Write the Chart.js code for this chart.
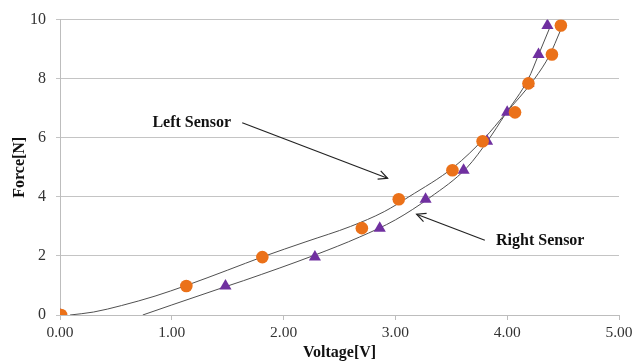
<!DOCTYPE html>
<html>
<head>
<meta charset="utf-8">
<script src="https://cdn.jsdelivr.net/npm/chart.js@4"></script>
<style>
  html, body { margin: 0; padding: 0; background: #fff; }
  #wrap { width: 632px; height: 362px; }
</style>
</head>
<body>
<div id="wrap"><canvas id="forceChart" width="632" height="362"></canvas></div>
<script>
// Measured points (same force steps for both sensors)
const force = [0, 0.98, 1.96, 2.94, 3.92, 4.90, 5.88, 6.86, 7.84, 8.82, 9.80];
const leftVoltage = [0.01, 1.13, 1.81, 2.70, 3.03, 3.51, 3.78, 4.07, 4.19, 4.40, 4.48];
const rightVoltage = [0.00, 1.48, 2.28, 2.86, 3.27, 3.61, 3.82, 4.00, 4.19, 4.28, 4.36];

// Trendlines
const leftTrendV = [0.09, 0.30, 0.55, 0.85, 1.13, 1.50, 1.82, 2.20, 2.60, 2.90, 3.12, 3.52, 3.80, 3.98, 4.245, 4.38, 4.475];
const leftTrendF = [0.00, 0.10, 0.32, 0.64, 1.00, 1.52, 1.98, 2.48, 3.00, 3.50, 4.00, 5.00, 6.00, 6.80, 8.00, 8.80, 9.62];
const rightTrendV = [0.74, 1.00, 1.45, 1.64, 2.28, 2.68, 3.00, 3.31, 3.64, 3.83, 3.98, 4.19, 4.275, 4.38];
const rightTrendF = [0.00, 0.34, 0.92, 1.16, 2.03, 2.64, 3.22, 3.98, 4.99, 5.92, 6.78, 8.00, 8.76, 9.72];

// Axis ticks
const xTicks = [0, 1, 2, 3, 4, 5];
const yTicks = [0, 2, 4, 6, 8, 10];

// Callouts, placed in data units
const callouts = [
    { text: 'Left Sensor', tx: 1.53, ty: 6.51, align: 'right', from: [1.63, 6.51], to: [2.93, 4.63] },
    { text: 'Right Sensor', tx: 3.90, ty: 2.50, align: 'left', from: [3.80, 2.53], to: [3.19, 3.41] }
];

const toPoints = (xs, ys) => xs.map((x, i) => ({ x: x, y: ys[i] }));

const serif = "'Liberation Serif', 'Times New Roman', serif";

const calloutPlugin = {
    id: 'callouts',
    afterDatasetsDraw(chart) {
        const ctx = chart.ctx;
        const xs = chart.scales.x, ys = chart.scales.y;
        ctx.save();
        ctx.font = 'bold 16px ' + serif;
        ctx.fillStyle = '#111';
        ctx.textBaseline = 'middle';
        ctx.strokeStyle = '#222';
        ctx.lineWidth = 1.2;
        callouts.forEach(c => {
            ctx.textAlign = c.align;
            ctx.fillText(c.text, xs.getPixelForValue(c.tx), ys.getPixelForValue(c.ty));
            const x1 = xs.getPixelForValue(c.from[0]), y1 = ys.getPixelForValue(c.from[1]);
            const x2 = xs.getPixelForValue(c.to[0]), y2 = ys.getPixelForValue(c.to[1]);
            ctx.beginPath();
            ctx.moveTo(x1, y1);
            ctx.lineTo(x2, y2);
            ctx.stroke();
            // open arrow head
            const a = Math.atan2(y2 - y1, x2 - x1);
            const len = 10, spread = 0.45;
            ctx.beginPath();
            ctx.moveTo(x2 - len * Math.cos(a - spread), y2 - len * Math.sin(a - spread));
            ctx.lineTo(x2, y2);
            ctx.lineTo(x2 - len * Math.cos(a + spread), y2 - len * Math.sin(a + spread));
            ctx.stroke();
        });
        ctx.restore();
    }
};

const ctx = document.getElementById('forceChart').getContext('2d');
new Chart(ctx, {
    type: 'scatter',
    data: {
        datasets: [
            {
                label: 'Left Sensor',
                data: toPoints(leftVoltage, force),
                pointStyle: 'circle',
                pointRadius: 6.3,
                backgroundColor: '#EB7119',
                borderColor: '#EB7119',
                borderWidth: 0,
                order: 1
            },
            {
                label: 'Right Sensor',
                data: toPoints(rightVoltage, force),
                pointStyle: 'triangle',
                pointRadius: 7,
                backgroundColor: '#7030A0',
                borderColor: '#7030A0',
                borderWidth: 0,
                order: 2
            },
            {
                label: 'Left trend',
                type: 'line',
                data: toPoints(leftTrendV, leftTrendF),
                borderColor: '#505050',
                borderWidth: 1,
                pointRadius: 0,
                fill: false,
                cubicInterpolationMode: 'monotone',
                order: 3
            },
            {
                label: 'Right trend',
                type: 'line',
                data: toPoints(rightTrendV, rightTrendF),
                borderColor: '#505050',
                borderWidth: 1,
                pointRadius: 0,
                fill: false,
                cubicInterpolationMode: 'monotone',
                order: 4
            }
        ]
    },
    options: {
        responsive: false,
        animation: false,
        layout: { padding: { top: 18, right: 13, left: 0, bottom: 0 } },
        plugins: {
            legend: { display: false },
            tooltip: { enabled: false }
        },
        scales: {
            x: {
                type: 'linear',
                min: 0,
                max: 5,
                afterBuildTicks: axis => { axis.ticks = xTicks.map(v => ({ value: v })); },
                afterFit: axis => {
                    axis.height = 47;
                    // let the last label hang over the edge like the original
                    axis.paddingLeft = 0;
                    axis.paddingRight = 0;
                },
                grid: {
                    display: true,
                    drawOnChartArea: false,
                    drawTicks: true,
                    tickLength: 5,
                    color: '#bdbdbd'
                },
                border: { display: true, color: '#bdbdbd', width: 1 },
                ticks: {
                    color: '#333',
                    font: { family: serif, size: 15.5 },
                    padding: 4,
                    callback: v => v.toFixed(2)
                },
                title: {
                    display: true,
                    text: 'Voltage[V]',
                    color: '#111',
                    font: { family: serif, size: 16, weight: 'bold' },
                    padding: { top: 0, bottom: 0 }
                }
            },
            y: {
                type: 'linear',
                min: 0,
                max: 10,
                afterBuildTicks: axis => { axis.ticks = yTicks.map(v => ({ value: v })); },
                afterFit: axis => { axis.width = 60; },
                grid: {
                    color: '#c4c4c4',
                    tickLength: 4
                },
                border: { display: true, color: '#bdbdbd', width: 1 },
                ticks: {
                    color: '#333',
                    font: { family: serif, size: 16 },
                    padding: 10
                },
                title: {
                    display: true,
                    text: 'Force[N]',
                    color: '#111',
                    font: { family: serif, size: 16, weight: 'bold' },
                    padding: { top: 10, bottom: 0 }
                }
            }
        }
    },
    plugins: [calloutPlugin]
});
</script>
</body>
</html>
